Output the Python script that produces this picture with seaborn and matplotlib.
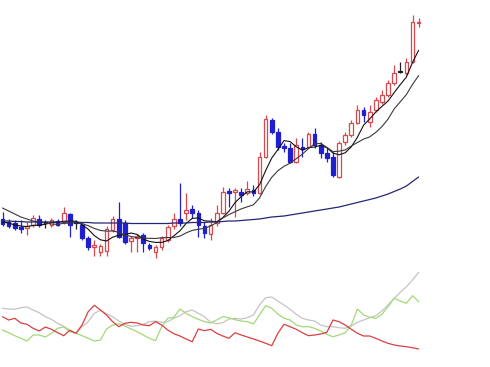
#!/usr/bin/env python3

import numpy as np
import pandas as pd
import seaborn as sns
from matplotlib import pyplot as plt

# candle prices
opens = [81, 78, 77, 73, 72, 75, 81, 77, 75, 79, 78, 86, 77, 75, 62, 53, 48, 49, 70, 81,
         77, 59, 62, 65, 55, 48, 53, 60, 74, 81, 87, 91, 87, 74, 66, 77, 87, 109, 108, 108,
         107, 110, 107, 143, 180, 168, 154, 152, 138, 153, 153, 166, 155, 147, 143, 123, 158, 165, 177, 190,
         178, 190, 198, 205, 217, 228, 227, 238, 277]
highs = [88, 81, 80, 80, 78, 85, 85, 80, 82, 81, 93, 87, 80, 77, 64, 60, 56, 74, 84, 98,
         80, 64, 66, 67, 57, 55, 64, 75, 87, 117, 107, 95, 90, 78, 82, 95, 113, 112, 112, 112,
         119, 115, 148, 185, 182, 172, 157, 157, 162, 162, 168, 172, 158, 152, 148, 159, 168, 180, 195, 193,
         195, 203, 210, 220, 235, 238, 242, 285, 282]
lows = [74, 72, 70, 67, 65, 73, 73, 72, 73, 74, 76, 63, 71, 60, 50, 44, 44, 44, 68, 62,
        56, 48, 48, 48, 50, 42, 50, 58, 71, 74, 80, 82, 63, 62, 60, 74, 86, 93, 83, 98,
        105, 104, 106, 142, 166, 150, 148, 137, 137, 143, 152, 152, 142, 138, 123, 122, 155, 163, 176, 178,
        173, 188, 196, 203, 215, 227, 225, 237, 273]
closes = [76, 74, 72, 71, 74, 82, 75, 77, 80, 75, 87, 75, 77, 62, 53, 55, 54, 71, 81, 63,
          58, 62, 64, 57, 52, 53, 62, 73, 81, 77, 90, 87, 75, 67, 75, 87, 108, 107, 110, 105,
          111, 107, 143, 181, 168, 153, 152, 138, 155, 151, 166, 155, 147, 142, 125, 157, 165, 177, 190, 185,
          188, 200, 205, 217, 227, 228, 238, 278, 278]

# moving averages as drawn
ma_short = [78, 77, 75, 74, 73.4, 74.6, 74.8, 75.8, 77.6, 77.8, 78.8, 78.8, 78.8, 75.2, 70.8, 64.4, 60.2, 59, 62.8, 64.8,
            65.4, 67, 65.6, 60.8, 58.6, 57.6, 57.6, 59.4, 64.2, 69.2, 76.6, 81.6, 82, 79.2, 78.8, 78.2, 82.4, 88.8, 97.4, 103.4,
            108.2, 108, 115.2, 129.4, 142, 150.4, 159.4, 158.4, 153.2, 149.8, 152.4, 153, 154.8, 152.2, 147, 145.2, 147.2, 153.2, 162.8, 174.8,
            181, 188, 193.6, 199, 207.4, 215.4, 223, 237.6, 249.8]
ma_mid = [92, 89, 86, 83, 81, 79, 78, 77, 76, 75.6, 76.7, 76.8, 77.3, 76.4, 74.3, 71.6, 69.5, 68.9, 69, 67.8,
          64.9, 63.6, 62.3, 61.8, 61.7, 61.5, 62.3, 62.5, 62.5, 63.9, 67.1, 69.6, 70.7, 71.7, 74, 77.4, 82, 85.4, 88.3, 91.1,
          93.2, 95.2, 102, 113.4, 122.7, 129.3, 133.7, 136.8, 141.3, 145.9, 151.4, 156.2, 156.6, 152.7, 148.4, 148.8, 150.1, 154, 157.5, 160.9,
          163.1, 167.6, 173.4, 180.9, 191.1, 198.2, 205.5, 215.6, 224.4]
ma_long = [79, 79, 78.5, 78.5, 78, 78, 78, 78, 78, 78, 78, 78, 78, 77.5, 77.5, 77, 77, 77, 77, 77,
           77, 76.5, 76.5, 76.5, 76.5, 76.5, 76.5, 76.5, 77, 77, 77, 77.5, 77.5, 77.5, 78, 78, 78.5, 79, 79, 79.5,
           80, 80.5, 81, 82, 83, 83.5, 84, 85, 86, 87, 88, 89, 90, 91, 92, 93, 94.5, 96, 97.5, 99,
           100.5, 102, 104, 106, 108.5, 111, 114, 118.5, 123]

# indicator panel
ind_gray = [56.7, 56, 55.7, 57.3, 58, 55, 52.3, 48.3, 45.7, 41.7, 38.7, 35, 31.7, 38.3, 43.3, 51.7, 54.7, 51.3, 48.3, 44,
            40.7, 38.7, 39.3, 40.7, 43.3, 44, 42.7, 43.3, 46.7, 49.3, 53.3, 55, 51.7, 48.3, 42.7, 41.3, 42.3, 46, 46.7, 46,
            47.3, 50, 60, 67.3, 68, 64, 60, 55.7, 50.7, 46.7, 45, 44, 40, 38.3, 38.3, 37.3, 36.7, 39, 42.7, 45,
            47.3, 49.3, 54, 60, 66.7, 72.7, 78.3, 85, 92.7]
ind_green = [35, 32.3, 29.3, 26.7, 24, 30, 30, 28, 31.7, 36.7, 38, 33.3, 31.7, 29.3, 26.7, 24, 25, 36, 40, 41.3,
             39, 36, 33.3, 30, 26.7, 24.3, 38.3, 46.7, 47.7, 56, 51.7, 48.3, 45.7, 43.3, 42, 45, 48.3, 47.3, 45.3, 44,
             43.3, 41, 50, 59.3, 56.7, 51, 46.7, 45, 40, 38.3, 38.3, 36.7, 34, 30.7, 28.3, 30, 32.3, 40, 56, 50,
             47.7, 46.7, 50.7, 58.3, 66.7, 64, 61.7, 69.3, 63.3]
ind_red = [48.3, 45, 46.7, 42, 40.7, 36.7, 34, 38, 35.7, 32.3, 29.3, 34.7, 31.7, 40, 53.3, 59.7, 55, 50, 43.3, 38.3,
           41.7, 42.7, 42, 40, 39.3, 43.3, 40, 35, 31.3, 29, 26, 23.3, 36, 34.3, 35.7, 31.7, 29, 26.7, 32.3, 30,
           28, 26, 24, 21.7, 19.3, 31.7, 40.7, 38.3, 35.7, 32.3, 29.3, 30, 31, 32.7, 45, 43.3, 40, 35.7, 31.7, 29,
           29, 26.7, 24, 21.7, 20, 19, 18.3, 17.3, 16]

up_color = "#d9474f"
down_color = "#1f1fd0"

df = pd.DataFrame({
    "open": opens, "high": highs, "low": lows, "close": closes,
    "ma_short": ma_short, "ma_mid": ma_mid, "ma_long": ma_long,
    "gray": ind_gray, "green": ind_green, "red": ind_red,
})
df["idx"] = np.arange(len(df))

sns.set_theme(style="white")

fig = plt.figure(figsize=(4.9, 3.67), dpi=100)
ax = fig.add_axes([0, 102 / 367, 1, 265 / 367])
ax2 = fig.add_axes([0, 0, 1, 102 / 367])

# Candles
colors = []
for o, c in zip(df["open"], df["close"]):
    if c > o:
        colors.append(up_color)
    elif c < o:
        colors.append(down_color)
    else:
        colors.append("#202020")

ax.vlines(df["idx"], df["low"], df["high"], colors=colors, linewidth=0.9, zorder=2)
body_bottom = np.minimum(df["open"], df["close"])
body_height = np.abs(df["close"] - df["open"])
body_height = np.where(body_height == 0, 0.6, body_height)
faces = ["white" if c == up_color else c for c in colors]
ax.bar(df["idx"], body_height, bottom=body_bottom, width=0.6,
       facecolor=faces, edgecolor=colors, linewidth=0.9, zorder=3)

# Moving averages
sns.lineplot(data=df, x="idx", y="ma_short", color="#111111", linewidth=0.8, ax=ax, zorder=4)
sns.lineplot(data=df, x="idx", y="ma_mid", color="#3a3a3a", linewidth=0.8, ax=ax, zorder=4)
sns.lineplot(data=df, x="idx", y="ma_long", color="#262670", linewidth=0.9, ax=ax, zorder=4)

ax.set_xlim(-0.41, 79.66)
ax.set_ylim(35, 300)

# Indicator lines
sns.lineplot(data=df, x="idx", y="gray", color="#c4c4c4", linewidth=0.9, ax=ax2)
sns.lineplot(data=df, x="idx", y="green", color="#a3d977", linewidth=0.9, ax=ax2)
sns.lineplot(data=df, x="idx", y="red", color="#d94040", linewidth=0.9, ax=ax2)

ax2.set_xlim(-0.41, 79.66)
ax2.set_ylim(-2, 100)

for a in (ax, ax2):
    a.set_axis_off()

fig.savefig("out.png", dpi=100)
plt.close()
